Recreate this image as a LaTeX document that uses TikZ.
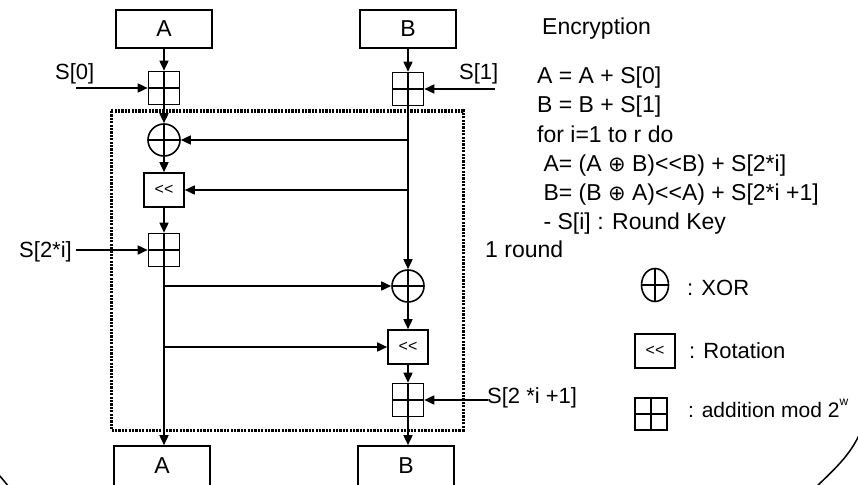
\documentclass[tikz,border=0pt]{standalone}
\usepackage{fontspec}
\setmainfont{Liberation Sans}
\newfontfamily\symfont{DejaVu Sans}
\usetikzlibrary{arrows.meta,shapes.geometric}
\newcommand\shl{<\kern0pt<}
\newcommand\xorsym{{\symfont\fontsize{21}{24}\selectfont ⊕}}
\begin{document}
\begin{tikzpicture}[x=1pt,y=-1pt,
  every node/.style={inner sep=0pt},
  txt/.style={font=\fontsize{22}{26}\selectfont, anchor=base west},
  alg/.style={font=\fontsize{23}{27}\selectfont, anchor=base west},
  lw/.style={line width=1.6pt},
  arr/.style={lw, -{Triangle[length=10pt,width=9pt]}},
  crossed/.style={path picture={\draw[lw] (path picture bounding box.north) -- (path picture bounding box.south)
      (path picture bounding box.west) -- (path picture bounding box.east);}},
  regbox/.style={draw, lw, minimum width=96pt, minimum height=38pt, font=\fontsize{23}{26}\selectfont},
  adder/.style={draw, lw, minimum width=31pt, minimum height=33pt, crossed},
  xorop/.style={draw, lw, circle, minimum size=32pt, crossed},
  rotbox/.style={draw, lw, minimum width=40pt, minimum height=34pt, font=\fontsize{16}{16}\selectfont},
  roundbox/.style={lw, dash pattern=on 2.2pt off 1.2pt, line width=3pt}
]
\useasboundingbox (0,0) rectangle (858,484);
\clip (0,0) rectangle (858,484);

% round frame
\draw[roundbox] (111,111) rectangle (463,430);

% top registers
\node[regbox] (ta) at (164,29) {A};
\node[regbox] (tb) at (408,29) {B};

% A column
\node[adder] (a0) at (164,88) {};
\node[xorop] (xa) at (164,140) {};
\node[rotbox] (ra) at (164,190) {\shl};
\node[adder] (a2) at (164,250) {};

% B column
\node[adder] (b1) at (408,89) {};
\node[xorop] (xb) at (408,286) {};
\node[rotbox] (rb) at (408,347) {\shl};
\node[adder] (b3) at (408,400) {};

% bottom registers (cut by the edge)
\node[regbox, minimum height=40pt] (ba) at (162,466) {A};
\node[regbox, minimum height=40pt] (bb) at (406,466) {B};

% key inputs
\coordinate (s0) at (76,88);
\coordinate (s1) at (495,89);
\coordinate (s2) at (76,250);
\coordinate (s3) at (488,400);
\node[txt] (ls0) at (55,80) {S[0]};
\node[txt] (ls1) at (459,80) {S[1]};
\node[txt, anchor=base east] (ls2) at (72,257) {S[2*i]};
\node[txt] (ls3) at (487,403) {S[2 *i +1]};

% connectors
\draw[arr] (ta) -- (a0);
\draw[arr] (s0) -- (a0.west);
\draw[arr] (tb) -- (b1);
\draw[arr] (s1) -- (b1.east);
\draw[arr] (a0) -- (xa);
\draw[arr] (xa) -- (ra);
\draw[arr] (ra) -- (a2);
\draw[arr] (s2) -- (a2.west);
\draw[arr] (a2.south) -- (a2.south |- ba.north);
\draw[arr] (b1) -- (xb);
\draw[arr] (b1 |- xa) -- (xa.east);
\draw[arr] (b1 |- ra) -- (ra.east);
\draw[arr] (a2 |- xb) -- (xb.west);
\draw[arr] (xb) -- (rb);
\draw[arr] (a2 |- rb) -- (rb.west);
\draw[arr] (rb) -- (b3);
\draw[arr] (s3) -- (b3.east);
\draw[arr] (b3.south) -- (b3.south |- bb.north);

% algorithm text
\node[alg] (t0) at (542,35) {Encryption};
\node[alg] (t1) at (537,84) {A = A + S[0]};
\node[alg] (t2) at (537,113) {B = B + S[1]};
\node[alg] (t3) at (537,142) {for i=1 to r do};
\node[alg] (t4) at (537,171) {\ A= (A \xorsym\ B)\shl B) + S[2*i]};
\node[alg] (t5) at (537,200) {\ B= (B \xorsym\ A)\shl A) + S[2*i +1]};
\node[alg] (t6) at (537,229) {\ - S[i] : Round Key};
\node[alg] (t7) at (485,257) {1 round};

% legend
\node[draw, lw, ellipse, minimum width=27pt, minimum height=33pt, crossed] (lx) at (655,285) {};
\node[txt] (lxt) at (687,295) {: XOR};
\node[rotbox] (lr) at (655,351) {\shl};
\node[txt] (lrt) at (689,358) {: Rotation};
\node[adder, minimum width=32pt, minimum height=32pt] (la) at (651,414) {};
\node[txt, font=\fontsize{21}{26}\selectfont] (lat) at (688,417) {: addition mod 2\raisebox{0.55em}{\fontsize{12}{12}\selectfont w}};

% outer frame fragments
\draw[line width=1.5pt] (-6,470) .. controls (0,476) .. (9,487);
\draw[line width=1.5pt] (862,428) .. controls (853,452) and (838,466) .. (815,488);
\end{tikzpicture}
\end{document}
